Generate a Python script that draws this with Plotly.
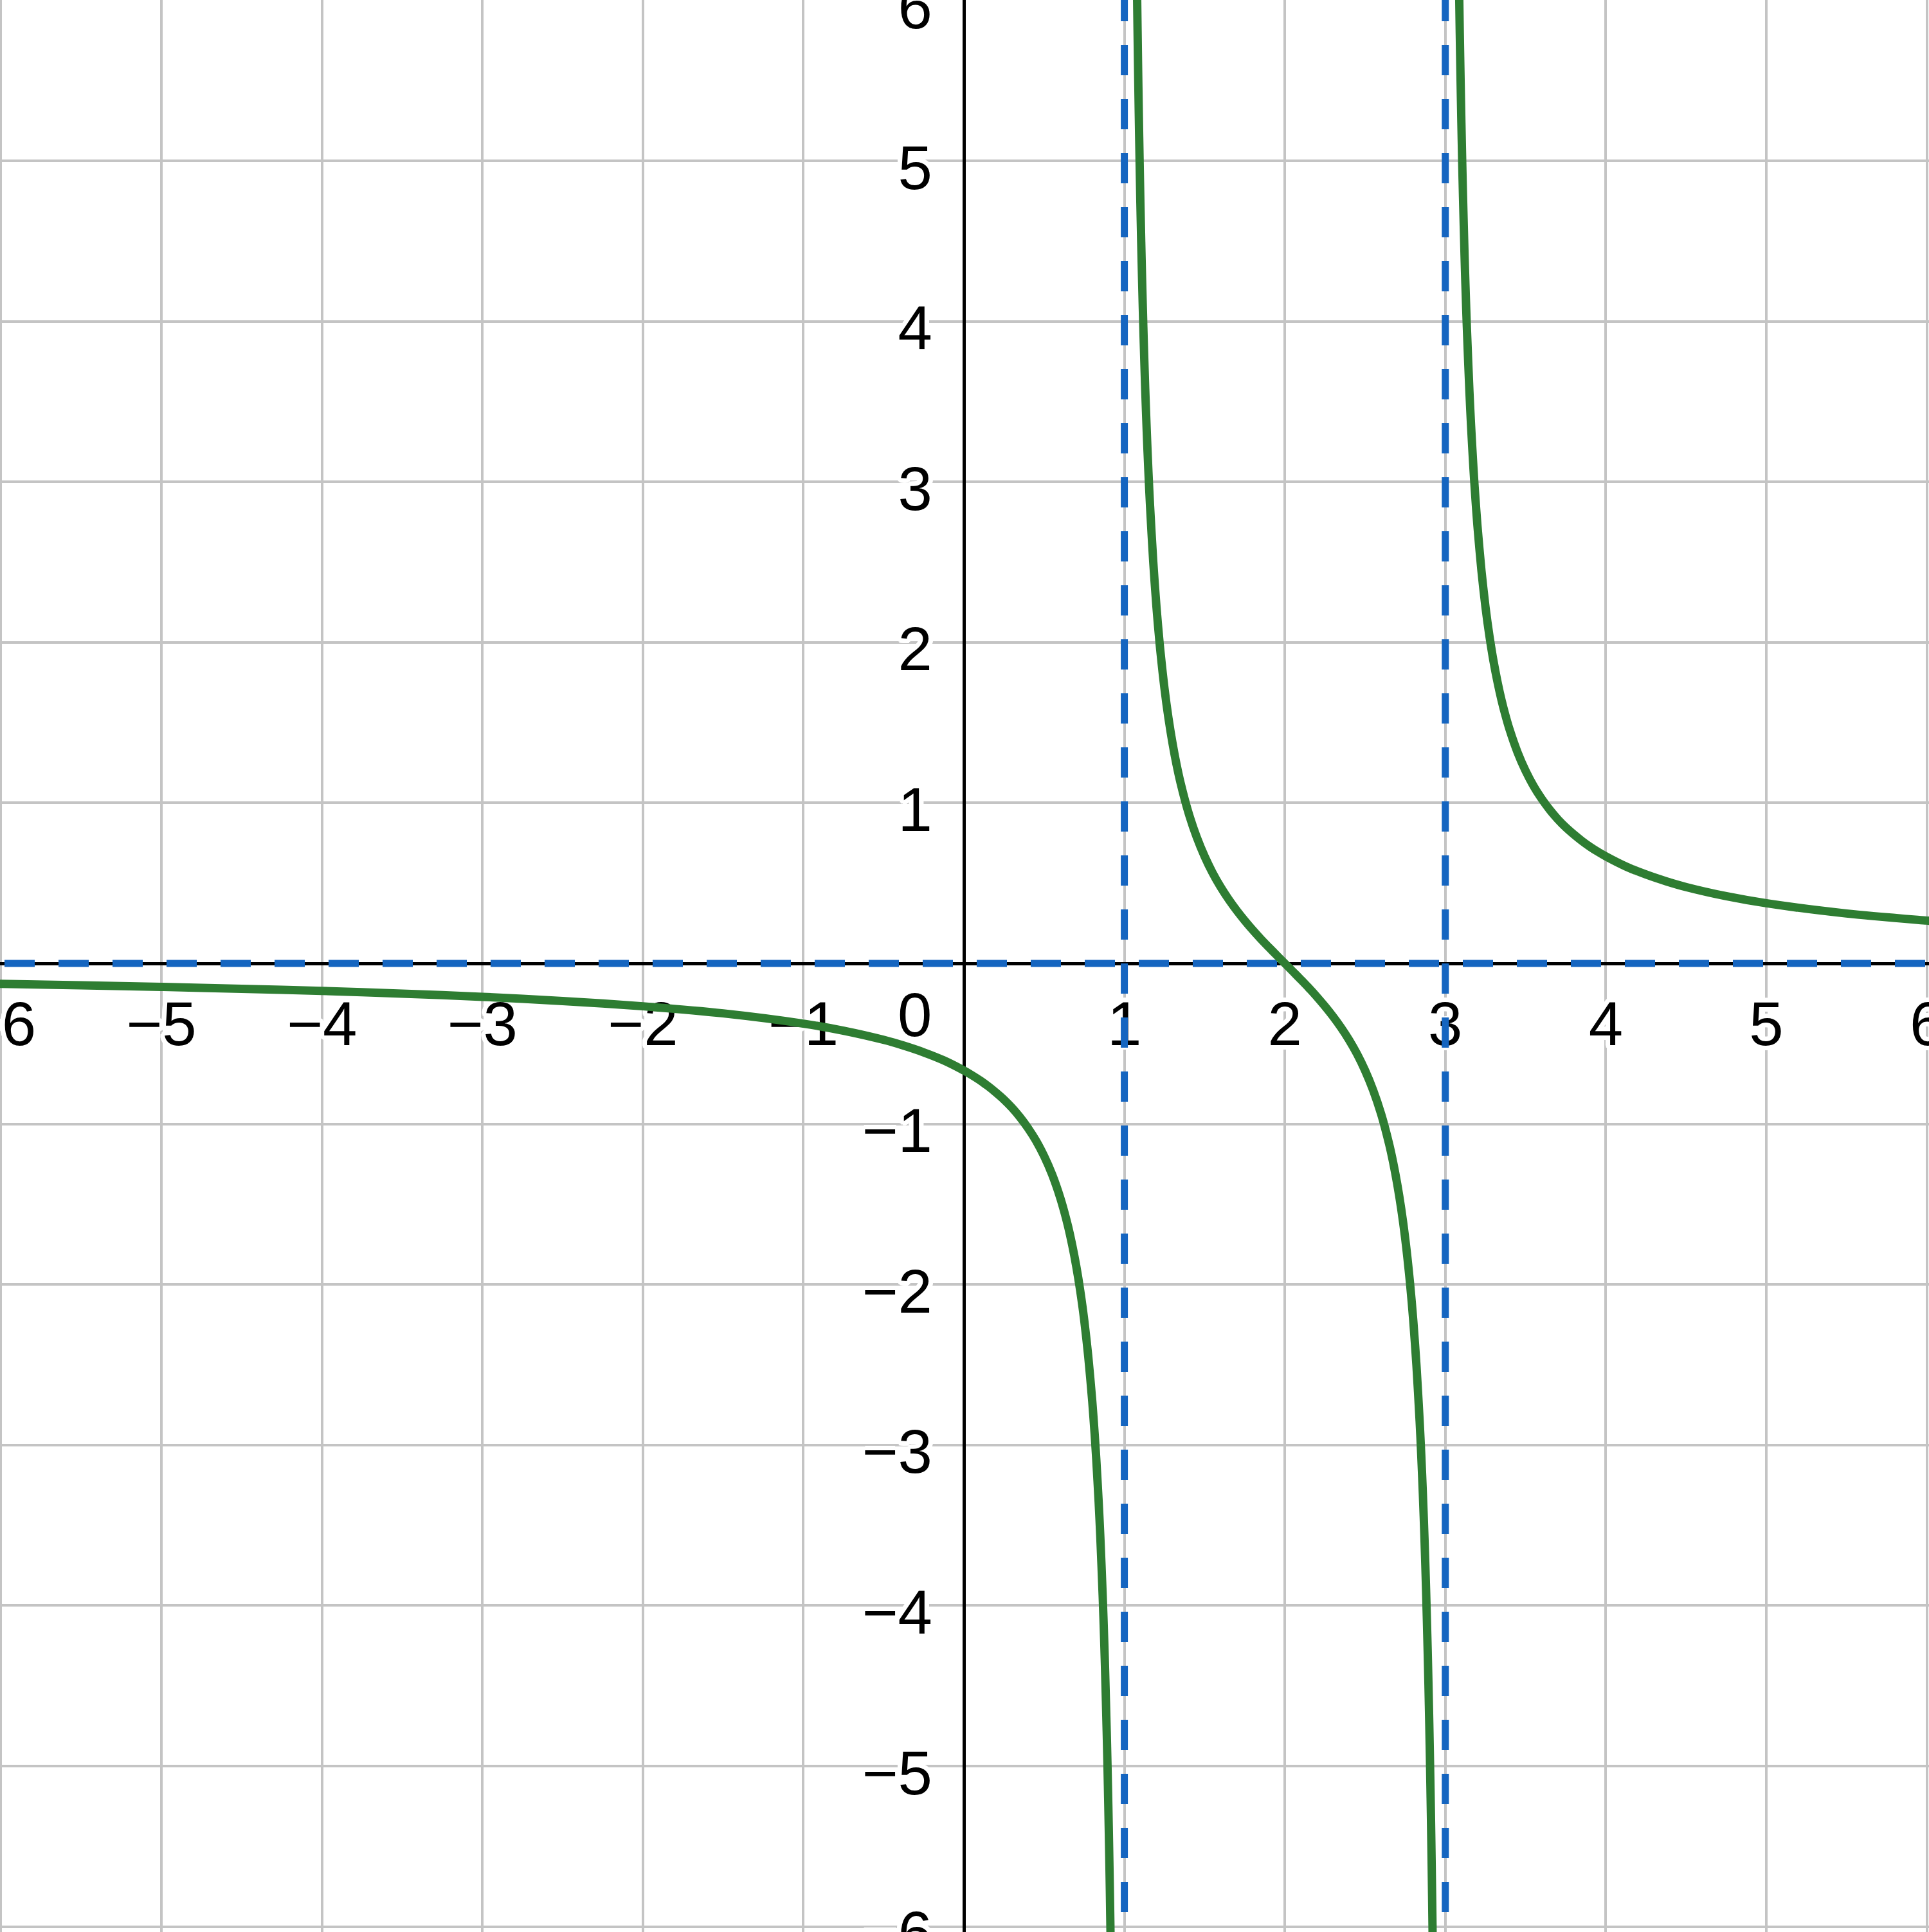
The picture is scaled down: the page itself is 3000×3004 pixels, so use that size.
import math
import plotly.graph_objects as go

# ---- data ----
branch1_x = [-6.1, -6, -5.5, -5, -4.5, -4, -3.5, -3, -2.5, -2, -1.5, -1, -0.75, -0.5, -0.375,
             -0.25, -0.125, 0, 0.05, 0.1, 0.15, 0.2, 0.25, 0.3, 0.35, 0.4, 0.45, 0.5, 0.55,
             0.6, 0.625, 0.65, 0.675, 0.7, 0.725, 0.75, 0.775, 0.8, 0.815, 0.825, 0.84, 0.85,
             0.865, 0.875, 0.88, 0.89, 0.895, 0.9, 0.905, 0.91, 0.915, 0.92, 0.925]
branch1_y = [-0.125, -0.127, -0.136, -0.146, -0.158, -0.171, -0.188, -0.208, -0.234, -0.267,
             -0.311, -0.375, -0.419, -0.476, -0.512, -0.554, -0.604, -0.667, -0.696, -0.728,
             -0.764, -0.804, -0.848, -0.899, -0.958, -1.026, -1.105, -1.2, -1.315, -1.458,
             -1.544, -1.641, -1.754, -1.884, -2.038, -2.222, -2.447, -2.727, -2.932, -3.087,
             -3.356, -3.566, -3.938, -4.235, -4.403, -4.782, -4.999, -5.238, -5.502, -5.795,
             -6.122, -6.49, -6.908]
branch2_x = [1.07, 1.075, 1.08, 1.085, 1.09, 1.095, 1.1, 1.105, 1.11, 1.12, 1.13, 1.14, 1.15,
             1.16, 1.18, 1.2, 1.22, 1.25, 1.275, 1.3, 1.325, 1.35, 1.4, 1.45, 1.5, 1.55, 1.6,
             1.65, 1.7, 1.75, 1.8, 1.85, 1.9, 1.95, 2.0, 2.05, 2.1, 2.15, 2.2, 2.25, 2.3, 2.35,
             2.4, 2.45, 2.5, 2.55, 2.6, 2.65, 2.675, 2.7, 2.725, 2.75, 2.78, 2.8, 2.82, 2.84,
             2.85, 2.86, 2.87, 2.88, 2.89, 2.895, 2.9, 2.905, 2.91, 2.915, 2.92, 2.925, 2.93]
branch2_y = [6.884, 6.407, 5.99, 5.621, 5.294, 5.001, 4.737, 4.498, 4.281, 3.901, 3.579, 3.303,
             3.063, 2.853, 2.503, 2.222, 1.992, 1.714, 1.528, 1.373, 1.240, 1.126, 0.938, 0.789,
             0.667, 0.564, 0.476, 0.399, 0.330, 0.267, 0.208, 0.153, 0.101, 0.050, 0.0, -0.050,
             -0.101, -0.153, -0.208, -0.267, -0.330, -0.399, -0.476, -0.564, -0.667, -0.789,
             -0.938, -1.126, -1.240, -1.373, -1.528, -1.714, -1.992, -2.222, -2.503, -2.853,
             -3.063, -3.303, -3.579, -3.901, -4.281, -4.498, -4.737, -5.001, -5.294, -5.621,
             -5.99, -6.407, -6.884]
branch3_x = [3.075, 3.08, 3.085, 3.09, 3.095, 3.1, 3.105, 3.11, 3.12, 3.125, 3.135, 3.15, 3.16,
             3.175, 3.185, 3.2, 3.225, 3.25, 3.275, 3.3, 3.325, 3.35, 3.375, 3.4, 3.45, 3.5,
             3.55, 3.6, 3.65, 3.7, 3.75, 3.8, 3.85, 3.9, 3.95, 4.0, 4.125, 4.25, 4.375, 4.5,
             4.75, 5.0, 5.5, 6.0, 6.1]
branch3_y = [6.908, 6.49, 6.122, 5.795, 5.502, 5.238, 4.999, 4.782, 4.403, 4.235, 3.938, 3.566,
             3.356, 3.087, 2.932, 2.727, 2.447, 2.222, 2.038, 1.884, 1.754, 1.641, 1.544, 1.458,
             1.315, 1.2, 1.105, 1.026, 0.958, 0.899, 0.848, 0.804, 0.764, 0.728, 0.696, 0.667,
             0.604, 0.554, 0.512, 0.476, 0.419, 0.375, 0.311, 0.267, 0.259]

vertical_asymptotes = [1, 3]
horizontal_asymptotes = [0]

tick_values = [-6, -5, -4, -3, -2, -1, 1, 2, 3, 4, 5, 6]
tick_labels = ["\u22126", "\u22125", "\u22124", "\u22123", "\u22122", "\u22121",
               "1", "2", "3", "4", "5", "6"]
origin_label = "0"

# ---- layout constants ----
W, H = 3000, 3004
PX = 249.6
X0_PX, Y0_PX = 1499, 1498
xr = [-X0_PX / PX, (W - X0_PX) / PX]
yr = [-(H - Y0_PX) / PX, Y0_PX / PX]

GREEN = "#2E7D32"
BLUE = "#1565C0"
GRID = "#C4C4C4"
FONT = "Liberation Sans, Arial, sans-serif"

r = 7
shadow = ", ".join(
    f"{r*math.cos(a*math.pi/12):.1f}px {r*math.sin(a*math.pi/12):.1f}px 0px white" for a in range(24)
)
tickfont = dict(family=FONT, size=96, color="black", shadow=shadow)

fig = go.Figure()

# asymptotes
for xa in vertical_asymptotes:
    fig.add_trace(go.Scatter(
        x=[xa, xa], y=[yr[1] + 14 / PX, yr[0] - 1],
        mode="lines", line=dict(color=BLUE, width=11, dash="47px,37px"),
        hoverinfo="skip", showlegend=False))
for ya in horizontal_asymptotes:
    fig.add_trace(go.Scatter(
        x=[xr[0] - 77 / PX, xr[1] + 1], y=[ya, ya],
        mode="lines", line=dict(color=BLUE, width=11, dash="47px,37px"),
        hoverinfo="skip", showlegend=False))

for bx, by in [(branch1_x, branch1_y), (branch2_x, branch2_y), (branch3_x, branch3_y)]:
    fig.add_trace(go.Scatter(
        x=bx, y=by, mode="lines",
        line=dict(color=GREEN, width=13, shape="spline", smoothing=0.8),
        hoverinfo="skip", showlegend=False))

fig.update_layout(
    width=W, height=H,
    margin=dict(l=0, r=0, t=0, b=0, pad=0, autoexpand=False),
    paper_bgcolor="white", plot_bgcolor="white",
    showlegend=False,
    xaxis=dict(
        range=xr, anchor="free", position=(0 - yr[0]) / (yr[1] - yr[0]),
        tickmode="array", tickvals=tick_values, ticktext=tick_labels,
        showgrid=True, gridcolor=GRID, gridwidth=4,
        zeroline=True, zerolinecolor="black", zerolinewidth=4.5,
        showline=False, ticks="", ticklabelstandoff=30, ticklabeloverflow="allow",
        automargin=False,
        tickfont=tickfont, layer="below traces", fixedrange=True,
    ),
    yaxis=dict(
        range=yr, anchor="free", position=(0 - xr[0]) / (xr[1] - xr[0]),
        tickmode="array", tickvals=tick_values, ticktext=tick_labels,
        showgrid=True, gridcolor=GRID, gridwidth=4,
        zeroline=True, zerolinecolor="black", zerolinewidth=4.5,
        showline=False, ticks="", ticklabelstandoff=49, ticklabelshift=10,
        ticklabeloverflow="allow", automargin=False,
        tickfont=tickfont, layer="below traces", fixedrange=True,
    ),
    annotations=[dict(
        x=0, y=0, xref="x", yref="y", text=origin_label, showarrow=False,
        xanchor="right", yanchor="top", xshift=-48, yshift=-24,
        font=dict(family=FONT, size=96, color="black"),
    )],
)

fig.write_html("out.html", config={"displayModeBar": False},
               post_script="document.body.style.margin='0';document.body.style.overflow='hidden';")
